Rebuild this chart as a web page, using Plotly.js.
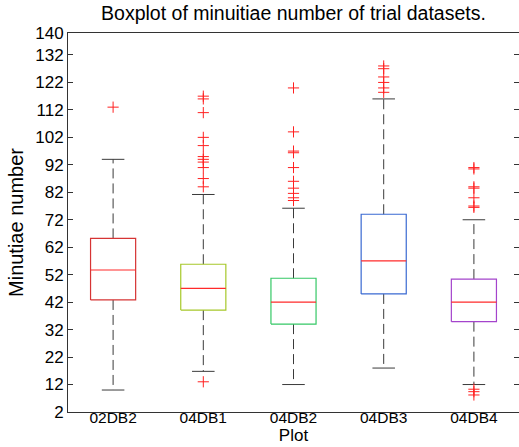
<!DOCTYPE html>
<html>
<head>
<meta charset="utf-8">
<script src="https://cdn.plot.ly/plotly-3.0.1.min.js"></script>
<style>html,body{margin:0;padding:0;background:#fff;}#chart{width:519px;height:447px;}</style>
</head>
<body>
<div id="chart"></div>
<script>
var categories = ['02DB2', '04DB1', '04DB2', '04DB3', '04DB4'];
var q1 = [42.8, 39.1, 34.0, 45.0, 34.9];
var medians = [53.7, 47.0, 42.0, 57.0, 42.0];
var q3 = [65.2, 55.8, 50.7, 74.0, 50.4];
var lowerWhisker = [10.0, 16.8, 12.0, 18.0, 12.0];
var upperWhisker = [94.0, 81.2, 76.2, 116.0, 72.0];
var outliers02DB2 = [113];
var outliers04DB1 = [13, 84, 87, 91, 93, 94, 95, 99, 102, 111, 116, 117];
var outliers04DB2 = [79, 80, 81.6, 83.5, 86, 91, 96.4, 97, 104, 120];
var outliers04DB3 = [118.4, 120, 122, 124, 127, 128];
var outliers04DB4 = [8.2, 9.4, 10.3, 76.5, 77, 80, 83.5, 84, 90.5, 91];
var yTicks = [2, 12, 22, 32, 42, 52, 62, 72, 82, 92, 102, 112, 122, 132, 140];

var outlierSets = [outliers02DB2, outliers04DB1, outliers04DB2, outliers04DB3, outliers04DB4];
var boxColors = ['#d63434', '#a6c82a', '#35c866', '#3a6ad2', '#a444cc'];
var halfW = 0.25, capHalf = 0.125;
var traces = [];

// whiskers (dashed)
categories.forEach(function (c, i) {
  var p = i + 1;
  traces.push({
    type: 'scatter', mode: 'lines', hoverinfo: 'skip', showlegend: false,
    x: [p, p, null, p, p],
    y: [q3[i], upperWhisker[i], null, q1[i], lowerWhisker[i]],
    line: {color: '#3a3a3a', width: 1, dash: '10px,5px'}
  });
});
// caps
categories.forEach(function (c, i) {
  var p = i + 1;
  traces.push({
    type: 'scatter', mode: 'lines', hoverinfo: 'skip', showlegend: false,
    x: [p - capHalf, p + capHalf, null, p - capHalf, p + capHalf],
    y: [upperWhisker[i], upperWhisker[i], null, lowerWhisker[i], lowerWhisker[i]],
    line: {color: '#3a3a3a', width: 1}
  });
});
// boxes
categories.forEach(function (c, i) {
  var p = i + 1;
  traces.push({
    type: 'scatter', mode: 'lines', showlegend: false, name: c,
    x: [p - halfW, p + halfW, p + halfW, p - halfW, p - halfW],
    y: [q1[i], q1[i], q3[i], q3[i], q1[i]],
    line: {color: boxColors[i], width: 1.2}
  });
});
// medians
categories.forEach(function (c, i) {
  var p = i + 1;
  traces.push({
    type: 'scatter', mode: 'lines', showlegend: false,
    x: [p - halfW, p + halfW],
    y: [medians[i], medians[i]],
    line: {color: '#ff2a2a', width: 1.2}
  });
});
// outliers
categories.forEach(function (c, i) {
  var p = i + 1;
  traces.push({
    type: 'scatter', mode: 'markers', showlegend: false,
    x: outlierSets[i].map(function () { return p; }),
    y: outlierSets[i],
    marker: {symbol: 'cross-thin-open', size: 8, line: {color: '#ff2020', width: 1}, color: '#ff2020'}
  });
});

var fontFam = '"Liberation Sans", Arial, sans-serif';
var layout = {
  width: 519, height: 447,
  margin: {l: 68, r: 0, t: 33, b: 35},
  paper_bgcolor: '#ffffff', plot_bgcolor: '#ffffff',
  font: {family: fontFam, color: '#000000'},
  showlegend: false,
  title: {
    text: 'Boxplot of minuitiae number of trial datasets.',
    font: {family: fontFam, size: 19.5, color: '#000'},
    x: 0.5, xref: 'paper', xanchor: 'center',
    y: 1 - 13 / 447, yref: 'container', yanchor: 'middle'
  },
  xaxis: {
    range: [0.5, 5.5],
    tickmode: 'array', tickvals: [1, 2, 3, 4, 5], ticktext: categories,
    ticks: '', showgrid: false, zeroline: false,
    showline: true, linecolor: '#333', linewidth: 1, mirror: true,
    ticklabelstandoff: -9,
    tickfont: {family: fontFam, size: 15.5, color: '#000'},
    title: {text: 'Plot', font: {family: fontFam, size: 17, color: '#000'}, standoff: 0}
  },
  yaxis: {
    range: [2, 140],
    tickmode: 'array', tickvals: yTicks,
    ticks: 'inside', ticklen: 5, tickcolor: '#333',
    showgrid: false, zeroline: false,
    showline: true, linecolor: '#333', linewidth: 1, mirror: 'ticks',
    tickfont: {family: fontFam, size: 17, color: '#000'},
    title: {text: 'Minutiae number', font: {family: fontFam, size: 20, color: '#000'}, standoff: 6}
  }
};

Plotly.newPlot('chart', traces, layout, {displayModeBar: false, staticPlot: true});
</script>
</body>
</html>
